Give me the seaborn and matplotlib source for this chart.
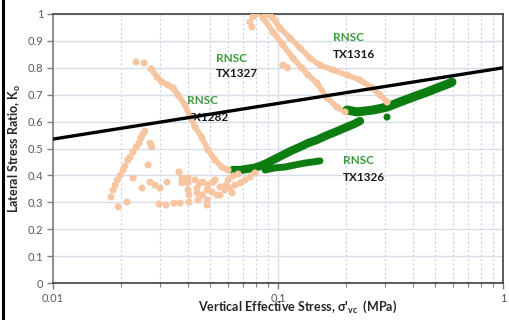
import numpy as np
import pandas as pd
import seaborn as sns
import matplotlib.pyplot as plt
from matplotlib.lines import Line2D
from matplotlib.ticker import FixedLocator, NullFormatter, LogLocator

# orange data
tx1282_x = [0.0181, 0.0185, 0.0189, 0.0193, 0.0199, 0.0205, 0.0209, 0.0215, 0.0220, 0.0227,
            0.0234, 0.0241, 0.0246, 0.0251, 0.0256, 0.0270, 0.0275,
            0.0195, 0.0213, 0.0227, 0.0249, 0.0265, 0.0270, 0.0284, 0.0299, 0.0321, 0.0296,
            0.0318, 0.0345, 0.0367, 0.0363, 0.0374, 0.0374, 0.0398, 0.0398, 0.0398, 0.0402,
            0.0402, 0.0428, 0.0437, 0.0437, 0.0441, 0.0450, 0.0464, 0.0460, 0.0484, 0.0484,
            0.0484, 0.0489, 0.0509, 0.0514, 0.0536, 0.0525, 0.0552, 0.0552,
            0.0581, 0.0612, 0.0644, 0.0678, 0.0713, 0.0751, 0.0790, 0.0600, 0.0631, 0.0665,
            0.0625, 0.0587]
tx1282_k = [0.320, 0.346, 0.364, 0.383, 0.401, 0.420, 0.435, 0.457, 0.468, 0.487,
            0.506, 0.520, 0.539, 0.554, 0.565, 0.520, 0.506,
            0.283, 0.301, 0.390, 0.353, 0.439, 0.375, 0.364, 0.353, 0.375, 0.294,
            0.290, 0.297, 0.297, 0.413, 0.390, 0.372, 0.390, 0.372, 0.346, 0.327,
            0.301, 0.383, 0.353, 0.335, 0.309, 0.372, 0.375, 0.327, 0.346, 0.309,
            0.290, 0.364, 0.338, 0.375, 0.327, 0.383, 0.357, 0.327,
            0.346, 0.353, 0.364, 0.372, 0.383, 0.394, 0.409, 0.383, 0.398, 0.405,
            0.335, 0.364]

tx1327_x = [0.0234, 0.0254]
tx1327_k = [0.822, 0.818]
tx1327_curve_x = [0.0273, 0.0290, 0.0305, 0.0324, 0.0342, 0.0359, 0.0386, 0.0406, 0.0428,
                  0.0460, 0.0489, 0.0525, 0.0564, 0.0600]
tx1327_curve_k = [0.796, 0.766, 0.747, 0.736, 0.725, 0.699, 0.662, 0.617, 0.580,
                  0.539, 0.494, 0.457, 0.431, 0.420]

tx1316_top_x = [0.0750, 0.0766, 0.0774, 0.0807, 0.0876, 0.0921, 0.1052, 0.1100]
tx1316_top_k = [0.970, 0.952, 0.990, 1.000, 1.000, 0.996, 0.810, 0.800]
tx1316_out_x = [0.0950, 0.1021, 0.1131, 0.1253, 0.1388, 0.1537, 0.1756, 0.2026, 0.2314,
                0.2617, 0.2840, 0.3051]
tx1316_out_k = [0.985, 0.948, 0.911, 0.874, 0.836, 0.810, 0.792, 0.773, 0.755,
                0.725, 0.699, 0.673]
tx1316_in_x = [0.0859, 0.0950, 0.1052, 0.1166, 0.1278, 0.1359, 0.1491, 0.1651, 0.1830, 0.1985]
tx1316_in_k = [0.985, 0.933, 0.885, 0.836, 0.799, 0.773, 0.743, 0.688, 0.654, 0.636]

# green data
tx1326_x = [0.0631, 0.0678, 0.0728, 0.0782, 0.0832, 0.0894, 0.0969, 0.1052, 0.1142, 0.1253,
            0.1359, 0.1491, 0.1618, 0.1756, 0.1886, 0.2026, 0.2177, 0.2314]
tx1326_k = [0.420, 0.420, 0.424, 0.428, 0.435, 0.446, 0.461, 0.476, 0.491, 0.506,
            0.520, 0.532, 0.546, 0.558, 0.569, 0.580, 0.591, 0.602]
tx1326_arm_x = [0.0876, 0.0969, 0.1074, 0.1190, 0.1318, 0.1431, 0.1537]
tx1326_arm_k = [0.420, 0.428, 0.431, 0.439, 0.446, 0.450, 0.454]
upper_x = [0.2026, 0.2244, 0.2644, 0.3051, 0.3485, 0.3981, 0.4595, 0.5248, 0.5813, 0.5932]
upper_k = [0.643, 0.636, 0.643, 0.654, 0.673, 0.691, 0.710, 0.729, 0.743, 0.747]
blob_x = [0.3051]
blob_k = [0.617]

# Ko line
line_x = [0.01, 1.0]
line_k = [0.535, 0.80]

orange = '#F8C5A1'
green = '#0D7D12'

sns.set_theme(style="white")
plt.rcParams['font.family'] = ['Lato', 'DejaVu Sans']
plt.rcParams['mathtext.fontset'] = 'custom'
plt.rcParams['mathtext.rm'] = 'Lato'
plt.rcParams['mathtext.bf'] = 'Lato:bold'

fig = plt.figure(figsize=(5.09, 3.2), dpi=100)
ax = fig.add_axes([53 / 509, 37 / 320, 450 / 509, 269 / 320])
ax.set_xscale('log')

# dense branches: thick line + dots
for xs, ks, c, lw in [(tx1327_curve_x, tx1327_curve_k, orange, 4.0),
                      (tx1316_out_x, tx1316_out_k, orange, 4.0),
                      (tx1316_in_x, tx1316_in_k, orange, 4.0),
                      (tx1326_x, tx1326_k, green, 6.0),
                      (tx1326_arm_x, tx1326_arm_k, green, 5.0),
                      (upper_x, upper_k, green, 6.5)]:
    sns.lineplot(x=xs, y=ks, sort=False, estimator=None, color=c, lw=lw, ax=ax,
                 solid_capstyle='round', zorder=3)

for xs, ks, c in [(tx1282_x, tx1282_k, orange), (tx1327_x, tx1327_k, orange),
                  (tx1316_top_x, tx1316_top_k, orange), (tx1327_curve_x, tx1327_curve_k, orange),
                  (tx1316_out_x, tx1316_out_k, orange), (tx1316_in_x, tx1316_in_k, orange),
                  (blob_x, blob_k, green)]:
    sns.scatterplot(x=xs, y=ks, color=c, s=26, edgecolor='none', ax=ax, zorder=3)

sns.lineplot(x=line_x, y=line_k, color='black', lw=2.4, ax=ax, zorder=4)

ax.set_xlim(0.01, 1)
ax.set_ylim(0, 1)
ax.set_yticks(np.arange(0, 1.01, 0.1))
ax.set_yticklabels(['0', '0.1', '0.2', '0.3', '0.4', '0.5', '0.6', '0.7', '0.8', '0.9', '1'])
ax.xaxis.set_major_locator(FixedLocator([0.01, 0.1, 1]))
ax.set_xticklabels(['0.01', '0.1', '1'])
ax.xaxis.set_minor_locator(LogLocator(base=10, subs=np.arange(2, 10)))
ax.xaxis.set_minor_formatter(NullFormatter())

ax.grid(True, which='major', axis='y', color='#D6DCE8', lw=1.0, zorder=0)
ax.grid(True, which='major', axis='x', color='#D6DCE8', lw=1.0, zorder=0)
ax.grid(True, which='minor', axis='x', color='#C9D2E3', lw=0.8, ls=(0, (2, 2)), zorder=0)
ax.set_axisbelow(True)

for side in ['top', 'right', 'bottom']:
    ax.spines[side].set_color('#404040')
    ax.spines[side].set_linewidth(1.2)
ax.spines['left'].set_color('#7F7F7F')
ax.spines['left'].set_linewidth(1.2)

ax.tick_params(axis='both', which='major', direction='out', length=4, width=1,
               color='#7F7F7F', labelsize=8, labelcolor='#595959', pad=3,
               bottom=True, left=True)
ax.tick_params(axis='x', which='minor', direction='out', length=3, width=0.8,
               color='#7F7F7F', bottom=True)

ax.set_ylabel(r'Lateral Stress Ratio, K$_\mathbf{o}$', fontsize=9, fontweight='bold',
              color='#262626')
ax.yaxis.set_label_coords(-0.067, 0.5)
ax.set_xlabel(r"Vertical Effective Stress, σ'$_\mathbf{vc}$  (MPa)", fontsize=9,
              fontweight='bold', color='#262626')
ax.xaxis.set_label_coords(0.544, -0.058)

labels = [(0.362, 0.833, 0.777, 'TX1327'), (0.298, 0.680, 0.617, 'TX1282'),
          (0.622, 0.911, 0.851, 'TX1316'), (0.644, 0.454, 0.394, 'TX1326')]
for fx, fy1, fy2, name in labels:
    ax.text(fx, fy1, 'RNSC', transform=ax.transAxes, color='#3A9A3A', fontsize=8.5,
            fontweight='bold', va='center', ha='left', zorder=2)
    ax.text(fx, fy2, name, transform=ax.transAxes, color='#1A1A1A', fontsize=8.5,
            fontweight='bold', va='center', ha='left', zorder=2)

# frame line on the left edge of the picture
fig.add_artist(Line2D([3 / 509, 3 / 509], [0, 1], transform=fig.transFigure,
                      color='black', lw=2.2))

plt.savefig('out.png', dpi=100)
plt.close()
